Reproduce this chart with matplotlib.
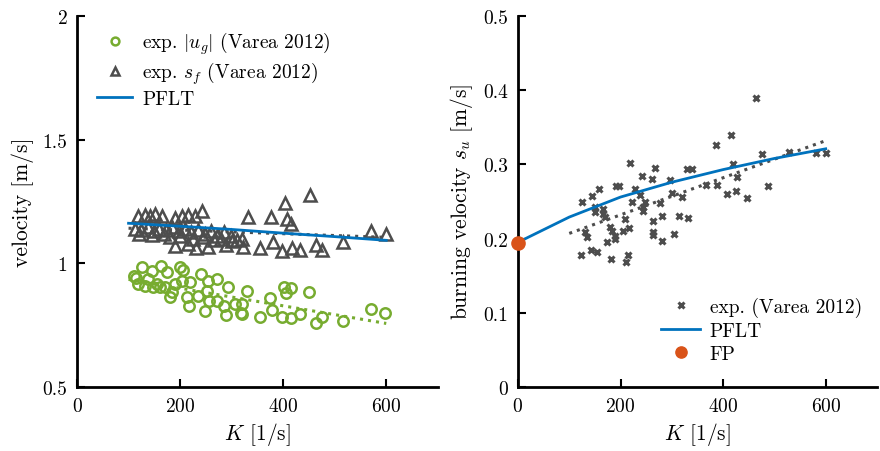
import matplotlib
matplotlib.use("Agg")
import matplotlib.pyplot as plt
from matplotlib.ticker import FuncFormatter

plt.rcParams["font.family"] = "serif"
plt.rcParams["font.serif"] = ["cmr10"]
plt.rcParams["mathtext.fontset"] = "cm"
plt.rcParams["axes.formatter.use_mathtext"] = True

green = "#77AC30"
gray = "#4D4D4D"
blue = "#0072BD"
orange = "#D95319"

# left panel: exp. |u_g| (circles)
ug_K = [126, 110, 118, 145, 137, 163, 174, 155, 170, 190, 199, 205, 184, 180, 203, 219, 213, 217,
        234, 240, 254, 271, 257, 252, 248, 271, 286, 292, 290, 306, 319, 132, 147, 161, 115,
        329, 402, 416, 406, 451, 375, 321, 321, 356, 379, 397, 416, 432, 463, 476, 517, 571, 598]
ug_v = [0.984, 0.95, 0.915, 0.97, 0.935, 0.99, 0.964, 0.915, 0.903, 0.915, 0.984, 0.972, 0.883, 0.862,
        0.927, 0.923, 0.862, 0.826, 0.866, 0.955, 0.927, 0.935, 0.846, 0.887, 0.806, 0.846, 0.826,
        0.903, 0.793, 0.834, 0.80, 0.907, 0.903, 0.903, 0.94,
        0.887, 0.903, 0.90, 0.879, 0.883, 0.858, 0.834, 0.797, 0.785, 0.81, 0.785, 0.777, 0.797,
        0.757, 0.781, 0.765, 0.814, 0.80]

# left panel: exp. s_f (triangles)
sf_K = [118, 132, 141, 151, 164, 190, 203, 215, 228, 242, 112, 125, 138, 150, 160, 172, 185, 197,
        210, 222, 235, 248, 260, 272, 285, 298, 120, 145, 168, 180, 200, 225, 245, 265, 280, 300, 310,
        190, 215, 255, 290, 230,
        331, 377, 404, 453, 408, 416, 571, 600, 321, 323, 356, 380, 397, 418, 433, 463, 476, 517]
sf_v = [1.19, 1.195, 1.19, 1.2, 1.19, 1.185, 1.19, 1.195, 1.19, 1.21, 1.14, 1.135, 1.145, 1.13, 1.14,
        1.135, 1.145, 1.13, 1.14, 1.125, 1.135, 1.12, 1.13, 1.11, 1.125, 1.11, 1.12, 1.115, 1.12, 1.105,
        1.11, 1.1, 1.105, 1.095, 1.1, 1.09, 1.095, 1.07, 1.08, 1.065, 1.075, 1.06,
        1.186, 1.186, 1.243, 1.275, 1.18, 1.16, 1.13, 1.12, 1.097, 1.065, 1.06, 1.085, 1.05, 1.06,
        1.053, 1.073, 1.053, 1.085]

# left panel: PFLT and linear fits
pflt_left_K = [100, 200, 300, 400, 500, 600]
pflt_left_v = [1.162, 1.150, 1.137, 1.122, 1.108, 1.093]
fit_ug_K = [100, 600]
fit_ug_v = [0.935, 0.757]
fit_sf_K = [100, 600]
fit_sf_v = [1.142, 1.105]

# right panel: exp. s_u (crosses)
su_K = [125, 144, 158, 192, 197, 218, 267, 228, 238, 222, 247, 244, 277, 300, 320, 150, 166, 150, 166,
        169, 208, 179, 183, 205, 216, 189, 189, 131, 134, 173, 142, 154, 123, 181, 214, 210, 241, 261,
        296, 329, 340, 263, 281, 314, 331, 263, 263, 281, 304, 244, 464, 415, 387, 475, 528, 582, 600,
        419, 428, 366, 389, 487, 426, 407, 446]
su_s = [0.249, 0.257, 0.267, 0.271, 0.271, 0.302, 0.295, 0.267, 0.259, 0.249, 0.249, 0.243, 0.248,
        0.262, 0.256, 0.243, 0.24, 0.236, 0.233, 0.229, 0.226, 0.216, 0.21, 0.21, 0.214, 0.204, 0.2,
        0.209, 0.202, 0.195, 0.185, 0.182, 0.178, 0.172, 0.178, 0.168, 0.284, 0.28, 0.279, 0.294,
        0.294, 0.224, 0.231, 0.231, 0.228, 0.209, 0.205, 0.197, 0.206, 0.237, 0.389, 0.34, 0.326,
        0.314, 0.317, 0.315, 0.316, 0.3, 0.283, 0.272, 0.272, 0.271, 0.264, 0.26, 0.255]

pflt_right_K = [0, 100, 200, 300, 400, 500, 600]
pflt_right_s = [0.195, 0.229, 0.256, 0.276, 0.293, 0.308, 0.321]
fit_su_K = [100, 600]
fit_su_s = [0.207, 0.332]
fp_K = [0]
fp_s = [0.194]

fmt = FuncFormatter(lambda v, p: "%g" % v)

fig = plt.figure(figsize=(8.8, 4.52), dpi=100)
ax1 = fig.add_axes([0.0875, 0.1416, 0.410, 0.8208])
ax2 = fig.add_axes([0.5886, 0.1416, 0.408, 0.8208])

# left
ax1.plot(ug_K, ug_v, "o", mfc="none", mec=green, mew=1.8, ms=7.5, label=r"exp. $|u_g|$ (Varea 2012)")
ax1.plot(sf_K, sf_v, "^", mfc="none", mec=gray, mew=1.8, ms=8, label=r"exp. $s_f$ (Varea 2012)")
ax1.plot(fit_ug_K, fit_ug_v, ":", color=green, lw=2.2)
ax1.plot(fit_sf_K, fit_sf_v, ":", color=gray, lw=2.2)
ax1.plot(pflt_left_K, pflt_left_v, "-", color=blue, lw=2, label="PFLT")
ax1.set_xlim(0, 700)
ax1.set_ylim(0.5, 2)
ax1.set_xticks([0, 200, 400, 600])
ax1.set_yticks([0.5, 1, 1.5, 2])
ax1.yaxis.set_major_formatter(fmt)
ax1.set_xlabel(r"$K$ [1/s]", fontsize=15.5, labelpad=4)
ax1.set_ylabel("velocity [m/s]", fontsize=15.5, labelpad=6)
ax1.legend(loc="upper left", bbox_to_anchor=(0.035, 0.985), frameon=False, fontsize=14,
           handlelength=1.8, borderaxespad=0.2, labelspacing=0.2, handletextpad=0.5,
           borderpad=0.2, markerscale=0.75)

# right
ax2.plot(su_K, su_s, "x", color=gray, mew=2.2, ms=5, label="exp. (Varea 2012)")
ax2.plot(fit_su_K, fit_su_s, ":", color=gray, lw=2.2)
ax2.plot(pflt_right_K, pflt_right_s, "-", color=blue, lw=2, label="PFLT")
ax2.plot(fp_K, fp_s, "o", color=orange, ms=9.5, clip_on=False, zorder=5, label="FP")
ax2.set_xlim(0, 700)
ax2.set_ylim(0, 0.5)
ax2.set_xticks([0, 200, 400, 600])
ax2.set_yticks([0, 0.1, 0.2, 0.3, 0.4, 0.5])
ax2.yaxis.set_major_formatter(fmt)
ax2.set_xlabel(r"$K$ [1/s]", fontsize=15.5, labelpad=4)
ax2.set_ylabel(r"burning velocity $s_u$ [m/s]", fontsize=15.5, labelpad=6)
ax2.legend(loc="lower right", bbox_to_anchor=(0.98, 0.045), frameon=False, fontsize=14,
           handlelength=2.0, borderaxespad=0.2, labelspacing=0.25, handletextpad=0.5,
           borderpad=0.2, markerscale=0.85)

for ax in (ax1, ax2):
    ax.spines["top"].set_visible(False)
    ax.spines["right"].set_visible(False)
    ax.spines["left"].set_linewidth(2)
    ax.spines["bottom"].set_linewidth(2)
    ax.tick_params(direction="in", length=6, width=1.5, labelsize=14, pad=7)

fig.savefig("out.png", dpi=100)
